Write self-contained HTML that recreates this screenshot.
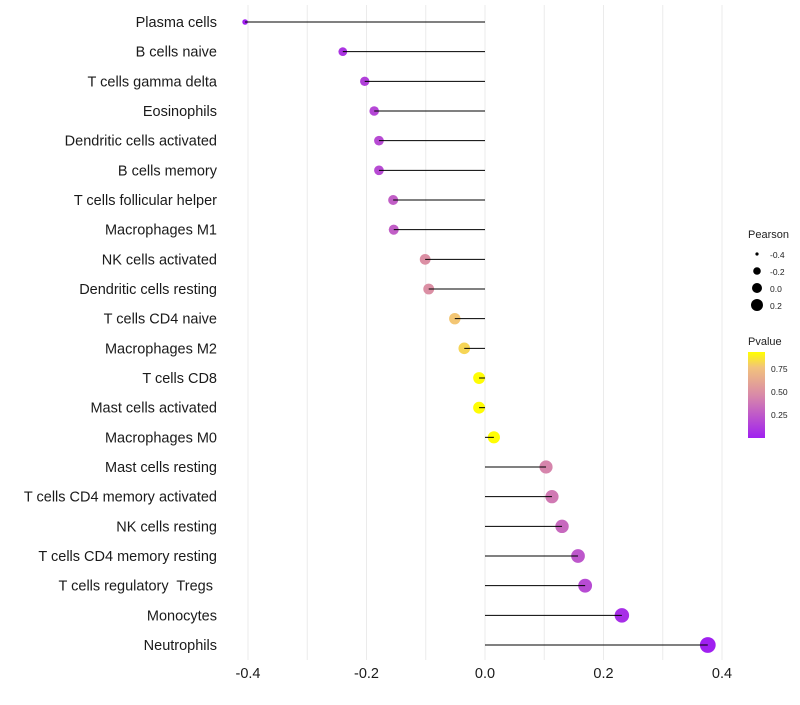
<!DOCTYPE html>
<html><head><meta charset="utf-8"><style>
body{margin:0;background:#fff;font-family:"Liberation Sans",sans-serif}
svg text{font-family:"Liberation Sans",sans-serif;white-space:pre}
</style></head><body>
<svg id="c" width="800" height="700">
<defs><linearGradient id="pg" x1="0" y1="1" x2="0" y2="0">
<stop offset="0" stop-color="#a020f0"/><stop offset="0.5" stop-color="#d98aa8"/><stop offset="0.82" stop-color="#f2c27c"/><stop offset="1" stop-color="#ffff00"/>
</linearGradient></defs>
<g id="grid"></g><g id="dots"></g><g id="marks"></g><g id="labels"></g>
<g>
<text x="748" y="238" font-size="11" fill="#222">Pearson</text>
<circle cx="757" cy="254" r="1.6" fill="#000"/><text x="770" y="258" font-size="8.5" fill="#222">-0.4</text>
<circle cx="757" cy="271" r="3.8" fill="#000"/><text x="770" y="275" font-size="8.5" fill="#222">-0.2</text>
<circle cx="757" cy="288" r="5" fill="#000"/><text x="770" y="292" font-size="8.5" fill="#222">0.0</text>
<circle cx="757" cy="305" r="6" fill="#000"/><text x="770" y="309" font-size="8.5" fill="#222">0.2</text>
</g>
<g>
<text x="748" y="345" font-size="11" fill="#222">Pvalue</text>
<rect x="748" y="352" width="17" height="86" fill="url(#pg)"/>
<text x="771" y="372" font-size="8.5" fill="#222">0.75</text>
<text x="771" y="395" font-size="8.5" fill="#222">0.50</text>
<text x="771" y="418" font-size="8.5" fill="#222">0.25</text>
</g>
</svg>
<script>
const categories=["Plasma cells","B cells naive","T cells gamma delta","Eosinophils","Dendritic cells activated","B cells memory","T cells follicular helper","Macrophages M1","NK cells activated","Dendritic cells resting","T cells CD4 naive","Macrophages M2","T cells CD8","Mast cells activated","Macrophages M0","Mast cells resting","T cells CD4 memory activated","NK cells resting","T cells CD4 memory resting","T cells regulatory  Tregs ","Monocytes","Neutrophils"];
const pearson=[-0.405,-0.240,-0.203,-0.187,-0.179,-0.179,-0.155,-0.154,-0.101,-0.095,-0.051,-0.035,-0.010,-0.010,0.015,0.103,0.113,0.130,0.157,0.169,0.231,0.376];
const pvalues=[0.01,0.1,0.15,0.18,0.2,0.2,0.28,0.28,0.5,0.5,0.78,0.82,0.93,0.93,0.93,0.45,0.4,0.33,0.25,0.2,0.07,0.01];
const xTicks=[-0.4,-0.2,0.0,0.2,0.4];
const xTickLabels=["-0.4","-0.2","0.0","0.2","0.4"];
const NS="http://www.w3.org/2000/svg";
const X=v=>485+v*592.5, Y=i=>22+i*29.667;
function mk(t,a,p){const e=document.createElementNS(NS,t);for(const k in a)e.setAttribute(k,a[k]);p.appendChild(e);return e;}
function hex(h){return [1,3,5].map(i=>parseInt(h.substr(i,2),16));}
const stops=[[0,hex("#a020f0")],[0.5,hex("#d98aa8")],[0.82,hex("#f2c27c")],[1,hex("#ffff00")]];
function col(p){const t=Math.max(0,Math.min(1,(p-0.011)/(0.935-0.011)));
 let k=0;while(k<stops.length-2&&t>stops[k+1][0])k++;
 const a=stops[k],b=stops[k+1];const u=(t-a[0])/(b[0]-a[0]);
 return "rgb("+a[1].map((c,i)=>Math.round(c+(b[1][i]-c)*u)).join(",")+")";}
const grid=document.getElementById('grid'),dots=document.getElementById('dots'),marks=document.getElementById('marks'),labels=document.getElementById('labels');
for(let v=-0.4;v<=0.401;v+=0.1){const l=mk('line',{x1:X(v),x2:X(v),y1:5,y2:660,stroke:'#ebebeb','stroke-width':1},grid);

}
categories.forEach((c,i)=>{
const r=Math.sqrt(Math.max(1.5,36+70*pearson[i]));
const d=mk('circle',{cx:X(pearson[i]),cy:Y(i),r:r,fill:col(pvalues[i])},dots);


const l=mk('line',{x1:X(0),x2:X(pearson[i]),y1:Y(i),y2:Y(i),stroke:'#000','stroke-width':1},marks);


const t=mk('text',{x:217,y:Y(i)+5,'text-anchor':'end','font-size':14.5,fill:'#1a1a1a'},labels);t.textContent=c;

});
xTicks.forEach((v,i)=>{const t=mk('text',{x:X(v),y:678,'text-anchor':'middle','font-size':14.5,fill:'#1a1a1a'},labels);t.textContent=xTickLabels[i];

});
</script>
</body></html>
